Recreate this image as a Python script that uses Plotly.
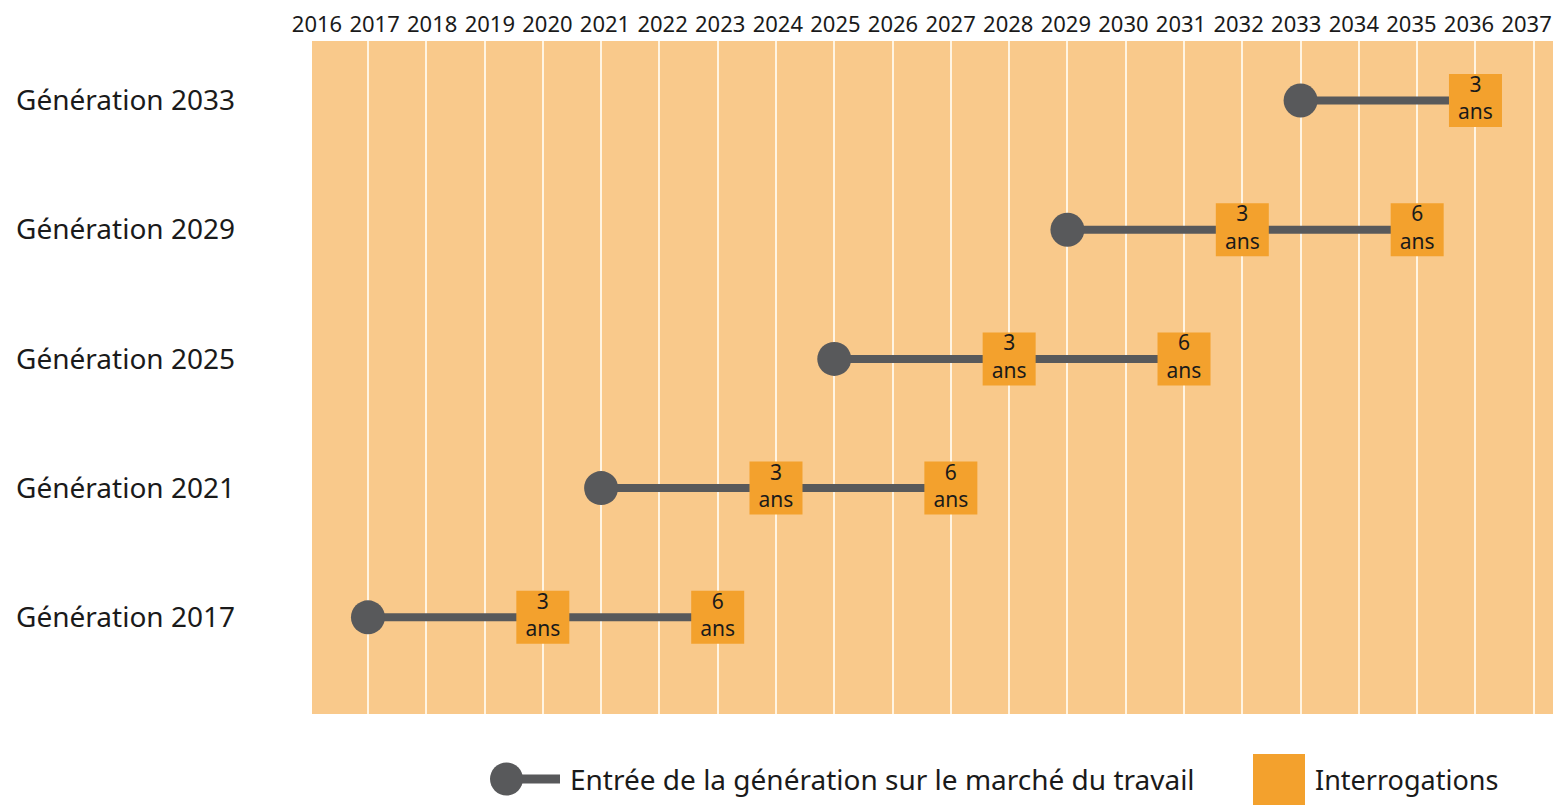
import plotly.graph_objects as go

# ---- data ----
gen_labels = ["Génération 2017", "Génération 2021", "Génération 2025",
              "Génération 2029", "Génération 2033"]
entry_years = [2017, 2021, 2025, 2029, 2033]
survey_3y = [2020, 2024, 2028, 2032, 2036]
survey_6y = [2023, 2027, 2031, 2035, None]
year_ticks = list(range(2016, 2038))
legend_entry = "Entrée de la génération sur le marché du travail"
legend_survey = "Interrogations"

# ---- style ----
FONT = "Noto Sans"
PANEL = "#F9C98B"
SQUARE = "#F3A12D"
GREY = "#58595B"
W, H = 1561, 805
ML, MR, MT, MB = 312, 8, 41, 91
PW, PH = W - ML - MR, H - MT - MB

fig = go.Figure()

rows = list(range(len(gen_labels)))

# connecting lines
for r, e, s3, s6 in zip(rows, entry_years, survey_3y, survey_6y):
    last = s6 if s6 is not None else s3
    fig.add_trace(go.Scatter(x=[e, last], y=[r, r], mode="lines",
                             line=dict(color=GREY, width=8),
                             hoverinfo="skip", showlegend=False))

# entry circles
fig.add_trace(go.Scatter(x=entry_years, y=rows, mode="markers",
                         marker=dict(symbol="circle", size=34, color=GREY,
                                     line=dict(width=0)),
                         showlegend=False, hoverinfo="skip"))

# survey squares
sq_x, sq_y, sq_t = [], [], []
for r, s3, s6 in zip(rows, survey_3y, survey_6y):
    sq_x.append(s3); sq_y.append(r); sq_t.append("3<br>ans")
    if s6 is not None:
        sq_x.append(s6); sq_y.append(r); sq_t.append("6<br>ans")
fig.add_trace(go.Scatter(x=sq_x, y=sq_y, mode="markers+text", text=sq_t,
                         textposition="middle center",
                         textfont=dict(family=FONT, size=21, color="#1a1a1a"),
                         marker=dict(symbol="square", size=53, color=SQUARE,
                                     line=dict(width=0)),
                         showlegend=False, hoverinfo="skip"))

# invisible trace for the top year axis
fig.add_trace(go.Scatter(x=[year_ticks[0], year_ticks[-1]], y=[0, 0], xaxis="x2",
                         mode="markers", marker=dict(opacity=0),
                         showlegend=False, hoverinfo="skip"))

fig.update_layout(
    width=W, height=H,
    margin=dict(l=ML, r=MR, t=MT, b=MB),
    paper_bgcolor="white", plot_bgcolor=PANEL,
    font=dict(family=FONT, color="#1a1a1a"),
    showlegend=False,
    xaxis=dict(range=[2016.04, 2037.33], tickmode="linear", tick0=2016, dtick=1,
               showgrid=True, gridcolor="#FFF4E2", gridwidth=2,
               showticklabels=False, zeroline=False, showline=False, fixedrange=True),
    xaxis2=dict(overlaying="x", side="top", range=[2015.913, 2037.458],
                tickmode="array", tickvals=year_ticks,
                ticktext=[str(y) for y in year_ticks],
                tickfont=dict(family=FONT, size=22, color="#1a1a1a"),
                showgrid=False, zeroline=False, showline=False,
                ticks="", ticklabelstandoff=4),
    yaxis=dict(range=[-0.748, 4.46], tickmode="array", tickvals=rows,
               ticktext=gen_labels,
               tickfont=dict(family=FONT, size=28, color="#1a1a1a"),
               showgrid=False, zeroline=False, showline=False, ticks="",
               ticklabelstandoff=76),
)

# ---- legend (drawn in paper space below the plot) ----
def px(xp):
    return (xp - ML) / PW

def py(yp):
    return (H - MB - yp) / PH

fig.add_shape(type="line", xref="paper", yref="paper",
              x0=px(506), x1=px(560), y0=py(779), y1=py(779),
              line=dict(color=GREY, width=9))
fig.add_shape(type="circle", xref="paper", yref="paper",
              x0=px(490), x1=px(523), y0=py(795.5), y1=py(762.5),
              fillcolor=GREY, line=dict(width=0))
fig.add_shape(type="rect", xref="paper", yref="paper",
              x0=px(1253), x1=px(1305), y0=py(805), y1=py(754),
              fillcolor=SQUARE, line=dict(width=0))
fig.add_annotation(xref="paper", yref="paper", x=px(568), y=py(779),
                   xanchor="left", yanchor="middle", showarrow=False,
                   text=legend_entry, font=dict(family=FONT, size=28, color="#1a1a1a"))
fig.add_annotation(xref="paper", yref="paper", x=px(1313), y=py(779),
                   xanchor="left", yanchor="middle", showarrow=False,
                   text=legend_survey, font=dict(family=FONT, size=27, color="#1a1a1a"))

fig.write_html("out.html", config={"displayModeBar": False},
               post_script="document.body.style.margin='0';")
